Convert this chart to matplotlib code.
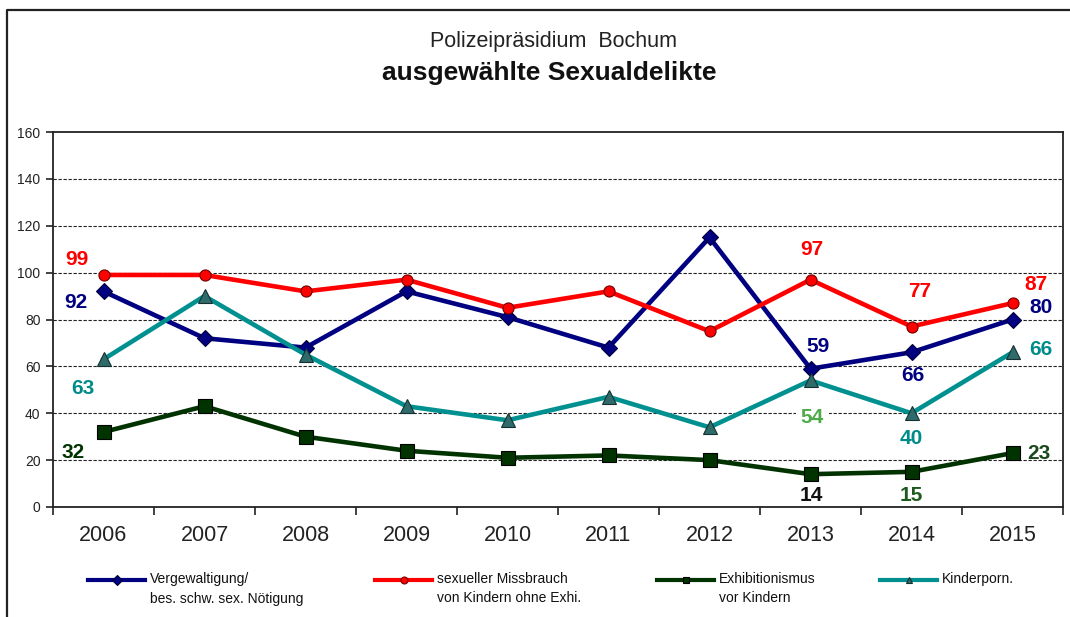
import matplotlib
matplotlib.use("Agg")
import matplotlib.pyplot as plt
from matplotlib.lines import Line2D

plt.rcParams['font.family'] = ['Liberation Sans', 'DejaVu Sans']

years = ["2006", "2007", "2008", "2009", "2010", "2011", "2012", "2013", "2014", "2015"]
vergewaltigung = [92, 72, 68, 92, 81, 68, 115, 59, 66, 80]
missbrauch = [99, 99, 92, 97, 85, 92, 75, 97, 77, 87]
exhibitionismus = [32, 43, 30, 24, 21, 22, 20, 14, 15, 23]
kinderporn = [63, 90, 65, 43, 37, 47, 34, 54, 40, 66]

labels = ["Vergewaltigung/\nbes. schw. sex. Nötigung",
          "sexueller Missbrauch\nvon Kindern ohne Exhi.",
          "Exhibitionismus\nvor Kindern",
          "Kinderporn."]
yticks = [0, 20, 40, 60, 80, 100, 120, 140, 160]

W, H = 1070, 617
fig = plt.figure(figsize=(W / 100, H / 100), dpi=100)
ax = fig.add_axes([53 / W, 1 - 507 / H, 1010 / W, 375 / H])

x = list(range(len(years)))
series = [vergewaltigung, missbrauch, exhibitionismus, kinderporn]
styles = [
    dict(color="#000080", marker="D", ms=8, mfc="#000080", mec="#00003a", mew=0.8),
    dict(color="#FF0000", marker="o", ms=8, mfc="#FF0000", mec="#700000", mew=0.8),
    dict(color="#003300", marker="s", ms=10, mfc="#003300", mec="#000000", mew=0.8),
    dict(color="#009090", marker="^", ms=10.5, mfc="#2F6B6B", mec="#143030", mew=0.8),
]
for vals, st in zip(series, styles):
    ax.plot(x, vals, lw=3.3, zorder=3, **st)

# data labels: (series index, category index, dx px, dy px, colour)
annots = [
    (0, 0, -28, -11, "#000080"), (0, 7, 8, 22, "#000080"), (0, 8, 1, -23, "#000080"), (0, 9, 29, 12, "#000080"),
    (1, 0, -27, 15, "#FF0000"), (1, 7, 1, 30, "#FF0000"), (1, 8, 8, 35, "#FF0000"), (1, 9, 23, 19, "#FF0000"),
    (2, 0, -30, -20, "#003300"), (2, 7, 1, -21, "#111111"), (2, 8, 0, -24, "#1E5A1E"), (2, 9, 26, 0, "#1A4A1A"),
    (3, 0, -21, -29, "#008B8B"), (3, 7, 2, -37, "#4FAA48"), (3, 8, 0, -25, "#008B8B"), (3, 9, 28, 3, "#008B8B"),
]
for si, ci, dx, dy, col in annots:
    v = series[si][ci]
    kw = {}
    if si == 3 and ci == 7:
        kw["bbox"] = dict(boxstyle="square,pad=0.25", fc="white", ec="none")
    ax.annotate(str(v), (ci, v), xytext=(dx, dy), textcoords="offset pixels",
                ha="center", va="center", fontsize=15, fontweight="bold",
                color=col, zorder=5, **kw)

ax.set_xlim(-0.5, len(years) - 0.5)
ax.set_ylim(0, 160)
ax.set_yticks(yticks)
ax.set_yticklabels([str(t) for t in yticks], fontsize=10, color="#222222")
ax.set_xticks(x)
ax.set_xticklabels(years, fontsize=15.5, color="#222222")
ax.tick_params(axis="x", which="major", length=0, pad=13)
ax.set_xticks([i - 0.5 for i in range(len(years) + 1)], minor=True)
ax.tick_params(axis="x", which="minor", length=6, width=1.2, direction="out", color="#222222")
ax.tick_params(axis="y", length=5, width=1.2, direction="out", color="#222222", pad=4)

for y in yticks[1:-1]:
    ax.axhline(y, color="#222222", lw=0.8, ls=(0, (3, 1.5)), zorder=1)
for sp in ax.spines.values():
    sp.set_linewidth(1.3)
    sp.set_color("#222222")

# titles
fig.text(554 / W, 1 - 42 / H, "Polizeipräsidium  Bochum", ha="center", va="center",
         fontsize=15.5, color="#222222")
fig.text(549 / W, 1 - 73 / H, "ausgewählte Sexualdelikte", ha="center", va="center",
         fontsize=19, fontweight="bold", color="#111111")

# outer frame (left and top)
fig.add_artist(Line2D([7 / W, 7 / W, 1.0], [0.0, 1 - 10 / H, 1 - 10 / H],
                      transform=fig.transFigure, color="#222222", lw=1.6))

# legend
leg_x = [88, 375, 657, 880]
leg_y = 580
for lx, lab, st in zip(leg_x, labels, styles):
    fig.add_artist(Line2D([lx / W, (lx + 57) / W], [1 - leg_y / H, 1 - leg_y / H],
                          transform=fig.transFigure, color=st["color"], lw=3,
                          marker=None))
    fig.add_artist(Line2D([(lx + 28.5) / W], [1 - leg_y / H], transform=fig.transFigure,
                          ls="none", marker=st["marker"], ms=5, mfc=st["mfc"],
                          mec=st["mec"], mew=0.8))
    fig.text((lx + 62) / W, 1 - (leg_y - 8) / H, lab, ha="left", va="top",
             fontsize=10, color="#111111", linespacing=1.5)

fig.savefig("out.png", dpi=100)
